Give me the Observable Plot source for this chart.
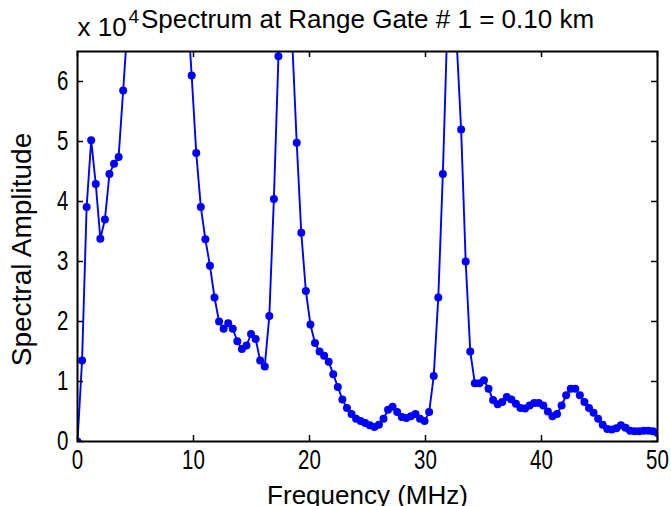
<!DOCTYPE html>
<html><head><meta charset="utf-8">
<script src="https://cdn.jsdelivr.net/npm/d3@7"></script>
<script src="https://cdn.jsdelivr.net/npm/@observablehq/plot@0.6"></script>
<style>html,body{margin:0;padding:0;background:#fff}</style>
</head><body><div id="chart"></div>
<script>
// Spectral amplitude, in units of 10^4, one value per FFT bin (128 bins from 0 to 50 MHz)
const amplitudeE4 = [
  0, 1.35, 3.91, 5.02, 4.29, 3.38, 3.70, 4.46, 4.63, 4.74,
  5.85, 7.0, 9.2, 12.5, 17, 23, 30, 34, 29, 21,
  15, 11, 9.0, 7.9, 7.3, 6.10, 4.81, 3.91, 3.37, 2.93,
  2.40, 2.00, 1.88, 1.97, 1.88, 1.67, 1.54, 1.60, 1.79, 1.71,
  1.35, 1.25, 2.09, 4.04, 6.42, 18, 14, 6.7, 4.98, 3.48,
  2.51, 1.95, 1.64, 1.50, 1.43, 1.33, 1.12, 0.91, 0.70, 0.56,
  0.46, 0.38, 0.34, 0.31, 0.27, 0.24, 0.28, 0.38, 0.53, 0.58,
  0.49, 0.41, 0.39, 0.42, 0.46, 0.38, 0.34, 0.49, 1.09, 2.40,
  4.46, 7.0, 15, 6.7, 5.20, 3.00, 1.50, 0.97, 0.97, 1.02,
  0.88, 0.69, 0.62, 0.66, 0.74, 0.70, 0.63, 0.56, 0.55, 0.60,
  0.64, 0.64, 0.60, 0.50, 0.42, 0.46, 0.60, 0.77, 0.88, 0.88,
  0.77, 0.66, 0.56, 0.48, 0.38, 0.28, 0.21, 0.20, 0.22, 0.27,
  0.23, 0.18, 0.17, 0.17, 0.18, 0.18, 0.17, 0.14
];
const freqMaxMHz = 50;
const freqMHz = amplitudeE4.map((_, i) => i * freqMaxMHz / (amplitudeE4.length - 1));
const xTicks = [0, 10, 20, 30, 40, 50];
const yTicks = [0, 1, 2, 3, 4, 5, 6];
const yMax = 6.5;
const titleText = "Spectrum at Range Gate # 1 = 0.10 km";
const xLabel = "Frequency (MHz)";
const yLabel = "Spectral Amplitude";
const exponentBase = "x 10";
const exponentPow = "4";

const W = 671, H = 506, mL = 77, mR = 14, mT = 51, mB = 65;
const fw = W - mL - mR, fh = H - mT - mB;
const tick = 6;
const data = freqMHz.map((f, i) => ({f, a: amplitudeE4[i]}));
const font = "'Liberation Sans', Arial, sans-serif";

const plot = Plot.plot({
  width: W, height: H,
  marginLeft: mL, marginRight: mR, marginTop: mT, marginBottom: mB,
  style: {fontFamily: font, fontSize: "26px", color: "black", background: "white", overflow: "visible"},
  x: {domain: [0, freqMaxMHz]},
  y: {domain: [0, yMax]},
  marks: [
    Plot.line(data, {x: "f", y: "a", stroke: "#0000ff", strokeWidth: 1.9, clip: true}),
    Plot.dot(data, {x: "f", y: "a", r: 4, fill: "#0000ff", stroke: "none", clip: true}),
    Plot.tickX(xTicks, {x: d => d, insetTop: fh - tick, stroke: "black", strokeWidth: 1.5}),
    Plot.tickX(xTicks, {x: d => d, insetBottom: fh - tick, stroke: "black", strokeWidth: 1.5}),
    Plot.tickY(yTicks, {y: d => d, insetRight: fw - tick, stroke: "black", strokeWidth: 1.5}),
    Plot.tickY(yTicks, {y: d => d, insetLeft: fw - tick, stroke: "black", strokeWidth: 1.5}),
    Plot.frame({stroke: "black", strokeWidth: 2}),
    Plot.axisX(xTicks, {tickSize: 0, tickPadding: 8, label: null, fontSize: 27, tickFormat: d3.format("d")}),
    Plot.axisY(yTicks, {tickSize: 0, tickPadding: 9, label: null, fontSize: 27, tickFormat: d3.format("d")}),
    Plot.text([titleText], {frameAnchor: "top", text: d => d, dy: -24, lineAnchor: "bottom", fontSize: 26}),
    Plot.text([xLabel], {frameAnchor: "bottom", text: d => d, dy: 62, lineAnchor: "bottom", fontSize: 26}),
    Plot.text([yLabel], {frameAnchor: "left", text: d => d, dx: -55, dy: 3, rotate: -90, textAnchor: "middle", fontSize: 28}),
    Plot.text([exponentBase], {frameAnchor: "top-left", text: d => d, dx: 0, dy: -16, textAnchor: "start", lineAnchor: "bottom", fontSize: 26}),
    Plot.text([exponentPow], {frameAnchor: "top-left", text: d => d, dx: 51, dy: -29, textAnchor: "start", lineAnchor: "bottom", fontSize: 19})
  ]
});
document.getElementById("chart").appendChild(plot);
// tick labels in the reference use narrow digits
d3.select(plot).selectAll('[aria-label="x-axis tick label"] text, [aria-label="y-axis tick label"] text').each(function() {
  const len = this.getComputedTextLength();
  this.setAttribute("textLength", (len * 0.76).toFixed(1));
  this.setAttribute("lengthAdjust", "spacingAndGlyphs");
});
</script>
</body></html>
